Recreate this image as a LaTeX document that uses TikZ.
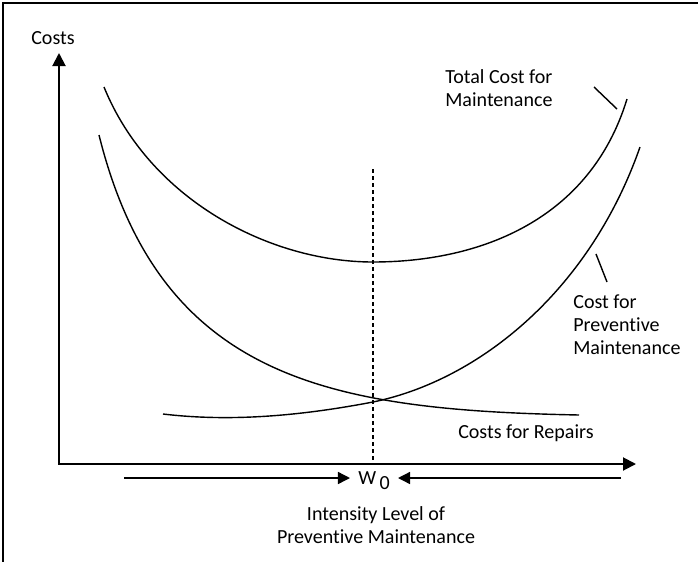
\documentclass[tikz,border=0pt]{standalone}
\usepackage{fontspec}
\setmainfont{Carlito}[Ligatures=NoCommon]
\usetikzlibrary{arrows.meta}
\tikzset{
    every node/.style={inner sep=0mm, font=\fontsize{11.4}{13.1}\selectfont},
    lbl/.style={align=left, anchor=west},
    curve/.style={line width=0.8pt},
    axis/.style={line width=1.1pt, {Triangle[length=2.6mm, width=2.6mm]}-{Triangle[length=2.6mm, width=2.6mm]}},
    pointer/.style={line width=0.8pt, -{Triangle[length=2.4mm, width=2.4mm]}},
    guide/.style={line width=0.6pt, dash pattern=on 0.8mm off 0.6mm}
}

\begin{document}
\begin{tikzpicture}[x=0.2mm, y=-0.2mm]
    \useasboundingbox (0,0) rectangle (698,562);
    \draw[line width=0.8pt] (698,3) -- (3,3) -- (3,562);

    % axes
    \coordinate (ytop) at (59,53);
    \coordinate (o) at (59,464);
    \coordinate (xend) at (636,464);
    \draw[axis] (ytop) -- (o) -- (xend);
    \node (costs) at (53,38) {Costs};

    % optimum
    \coordinate (wtop) at (373,169);
    \coordinate (wbot) at (373,464);
    \draw[guide] (wtop) -- (wbot);

    % curves
    \coordinate (t0) at (104,87);
    \coordinate (tm) at (373,262);
    \coordinate (t3) at (627,99);
    \draw[curve] (t0) .. controls (150,200) and (270,262) .. (tm)
        .. controls (480,262) and (590,220) .. (t3);

    \coordinate (r0) at (99,135);
    \coordinate (r3) at (579,415);
    \draw[curve] (r0) .. controls (160,380) and (330,410) .. (r3);

    \coordinate (p0) at (163,414);
    \coordinate (px) at (373,402);
    \coordinate (p3) at (640,147);
    \draw[curve] (p0) .. controls (230,422) and (300,416) .. (px)
        .. controls (480,380) and (590,290) .. (p3);

    % labels
    \node (ttl) at (445,88) [lbl] {Total Cost for\\Maintenance};
    \coordinate (ta) at (594,87);
    \coordinate (tb) at (617,109);
    \draw[curve] (ta) -- (tb);

    \node (prv) at (573,325) [lbl] {Cost for\\Preventive\\Maintenance};
    \coordinate (pa) at (596,254);
    \coordinate (pb) at (607,282);
    \draw[curve] (pa) -- (pb);

    \node (rep) at (594,433) [anchor=east] {Costs for Repairs};

    \node (w0) at (374,481) [inner xsep=1.6mm] {W\raisebox{-0.5ex}{\,0}};
    \coordinate (la) at (124,478);
    \coordinate (ra) at (621,478);
    \draw[pointer] (la) -- (la -| w0.west);
    \draw[pointer] (ra) -- (ra -| w0.east);

    \node (lvl) at (376,525) [align=center] {Intensity Level of\\Preventive Maintenance};
\end{tikzpicture}
\end{document}
